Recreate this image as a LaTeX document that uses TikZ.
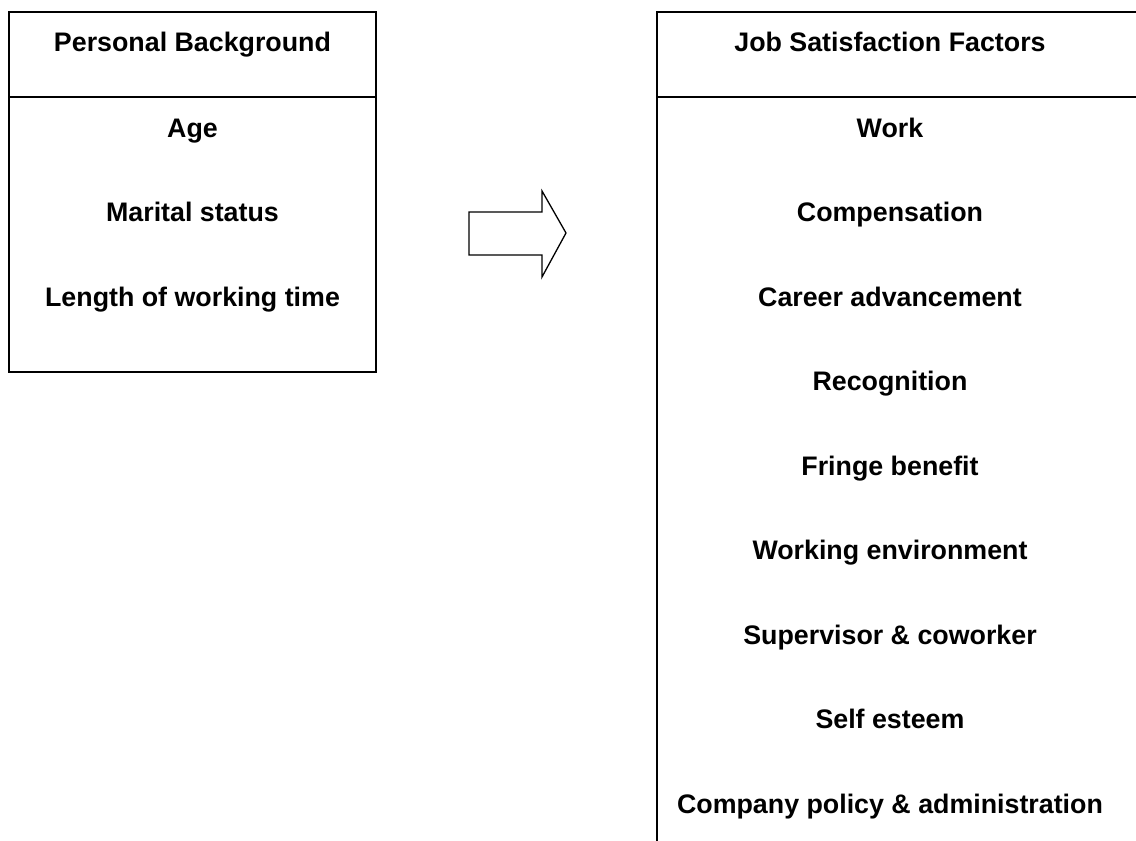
\documentclass[tikz,border=0pt]{standalone}
\usepackage{fontspec}
\setmainfont{Liberation Sans}
\usepackage{tikz}
\tikzset{
  boxline/.style={line width=2.4pt, line cap=rect},
  item/.style={font=\bfseries\fontsize{26.8}{31}\selectfont, inner sep=0pt, anchor=base},
}

\begin{document}
\begin{tikzpicture}[x=1pt, y=-1pt]
			%%%%% START %%%%%
			\useasboundingbox (0, 0) rectangle (1136, 841);
			\clip (0, 0) rectangle (1136, 841);
			
			% left box
			\draw[boxline] (9, 12) rectangle (376, 372);
			\draw[boxline] (9, 97) -- (376, 97);
			\node[item] (pb) at (192.5, 51) {Personal Background};
			\foreach \name [count=\i] in {Age, Marital status, Length of working time}
				\node[item] (pb\i) at (192.5, {137 + 84.5*(\i-1)}) {\name};
			
			% block arrow
			\draw[line width=1.3pt, line join=miter] (469, 212) -- (542, 212) -- (542, 191) -- (566, 233)
				-- (542, 277) -- (542, 255) -- (469, 255) -- cycle;
			
			% right box, runs off the page
			\draw[line width=2pt] (1150, 12) -- (657, 12) -- (657, 860);
			\draw[line width=2pt] (657, 97) -- (1150, 97);
			\node[item] (jsf) at (890, 51) {Job Satisfaction Factors};
			\foreach \name [count=\i] in {Work, Compensation, Career advancement, Recognition,
				Fringe benefit, Working environment, Supervisor \& coworker, Self esteem,
				Company policy \& administration}
				\node[item] (jsf\i) at (890, {137 + 84.5*(\i-1)}) {\name};
			
			%%%%% END %%%%%
\end{tikzpicture}
\end{document}
